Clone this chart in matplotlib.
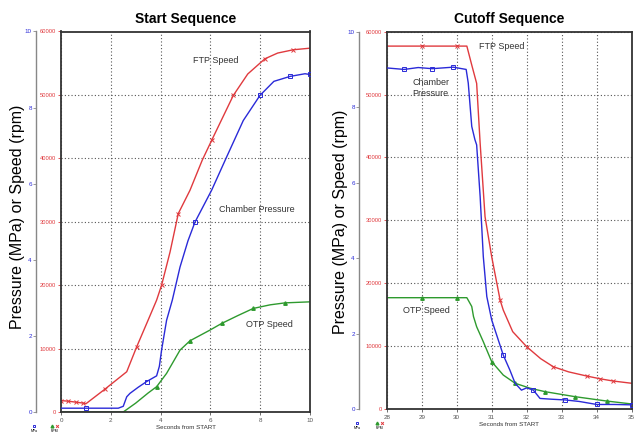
import matplotlib
matplotlib.use('Agg')
import matplotlib.pyplot as plt
from matplotlib.lines import Line2D

plt.rcParams['font.family'] = ['Liberation Sans', 'DejaVu Sans']

#%% data

# start sequence
t_ftp_start = [0, 0.3, 0.6, 0.9, 1.0, 1.1, 1.77, 2.64, 3.04, 3.5, 3.84, 4.04, 4.38, 4.71,
               5.18, 5.67, 6.05, 6.5, 6.92, 7.5, 8.19, 8.7, 9.33, 10]
ftp_start = [1800, 1700, 1550, 1400, 1300, 1600, 3620, 6350, 10280, 14500, 17640, 20000,
             25240, 31290, 34960, 39690, 42830, 46500, 49920, 53300, 55700, 56600, 57120, 57370]

t_pc_start = [0, 1, 2.3, 2.5, 2.64, 2.77, 3.1, 3.44, 3.84, 3.95, 4.04, 4.24, 4.47, 4.78,
              5.1, 5.38, 6.05, 6.65, 7.32, 7.99, 8.55, 9.2, 9.8, 10]
pc_start = [0.1, 0.1, 0.1, 0.15, 0.4, 0.49, 0.65, 0.8, 0.95, 1.2, 1.63, 2.41, 2.94, 3.81,
            4.5, 4.99, 5.83, 6.70, 7.66, 8.32, 8.69, 8.82, 8.89, 8.87]

t_otp_start = [0, 2.5, 3.0, 3.5, 3.84, 4.24, 4.78, 5.18, 5.98, 6.45, 7.1, 7.72, 8.4, 9.0, 10]
otp_start = [0, 0, 1400, 3000, 3990, 6090, 9760, 11230, 12910, 13960, 15200, 16330, 16900,
             17210, 17370]

# cutoff sequence
t_ftp_cut = [28, 29, 30, 30.29, 30.43, 30.57, 30.67, 30.81, 31.0, 31.24, 31.33, 31.6, 32.0,
             32.4, 32.76, 33.2, 33.71, 34.1, 34.47, 35]
ftp_cut = [57710, 57710, 57710, 57710, 54700, 51780, 42240, 30570, 24210, 17330, 15740,
           12300, 9900, 8000, 6720, 5900, 5250, 4800, 4450, 4090]

t_pc_cut = [28, 28.5, 28.9, 29.3, 29.9, 30.27, 30.33, 30.43, 30.52, 30.57, 30.67, 30.76,
            30.86, 31.0, 31.33, 31.52, 31.67, 31.75, 31.85, 32.0, 32.19, 32.38, 32.7, 33.1,
            33.5, 34.0, 34.5, 35]
pc_cut = [9.04, 9.0, 9.05, 9.02, 9.06, 9.0, 8.64, 7.49, 7.14, 7.0, 5.63, 4.04, 2.98, 2.36,
          1.43, 1.03, 0.68, 0.6, 0.5, 0.56, 0.50, 0.28, 0.26, 0.24, 0.2, 0.12, 0.12, 0.11]

t_otp_cut = [28, 29, 30, 30.29, 30.43, 30.48, 30.57, 30.76, 31.0, 31.33, 31.67, 32.1, 32.53,
             33.38, 34.28, 35]
otp_cut = [17700, 17700, 17700, 17700, 16300, 14700, 13080, 10700, 7520, 5400, 4090, 3300,
           2750, 1960, 1270, 800]

rpm_ticks = [0, 10000, 20000, 30000, 40000, 50000, 60000]
mpa_ticks = [0, 2, 4, 6, 8, 10]

RED = '#e03a3e'
BLUE = '#2a2ad8'
GREEN = '#2e9a2e'
TXT = '#333333'

fig = plt.figure(figsize=(6.37, 4.34), dpi=100)


def panel(rect, title, xticks, t_ftp, ftp, t_pc, pc, t_otp, otp, offset, marks):
    ax = fig.add_axes(rect)
    ax.set_xlim(xticks[0], xticks[-1])
    ax.set_ylim(0, 60000)
    ax.set_xticks(xticks)
    ax.set_yticks(rpm_ticks)
    ax.set_yticklabels([str(v) for v in rpm_ticks])
    ax.tick_params(axis='y', colors=RED, labelsize=4.2, length=2.5, width=0.6, pad=1)
    ax.tick_params(axis='x', colors='#555555', labelsize=4.5, length=2.5, width=0.6, pad=1.5)
    ax.grid(True, color='#555555', linestyle=(0, (1, 2)), linewidth=0.8)
    for s in ax.spines.values():
        s.set_color('#333333')
        s.set_linewidth(1.3)
    ax.set_xlabel('Seconds from START', fontsize=4.5, color=TXT, labelpad=2)
    ax.set_title(title, fontsize=10, fontweight='bold', pad=6)

    ax.plot(t_ftp, ftp, color=RED, lw=1.0, marker='x', ms=2.5, mew=0.7,
            markevery=marks[0])
    ax.plot(t_otp, otp, color=GREEN, lw=1.0, marker='^', ms=2.5, markevery=marks[2])

    axp = ax.twinx()
    axp.set_ylim(0, 10)
    axp.yaxis.tick_left()
    axp.set_yticks(mpa_ticks)
    for k in ['right', 'top', 'bottom']:
        axp.spines[k].set_visible(False)
    axp.spines['left'].set_visible(True)
    axp.spines['left'].set_position(('outward', offset))
    axp.spines['left'].set_color('#888888')
    axp.spines['left'].set_linewidth(1.0)
    axp.tick_params(axis='y', colors='#888888', labelcolor=BLUE, labelsize=4.5,
                    length=2, width=0.6, pad=1)
    axp.plot(t_pc, pc, color=BLUE, lw=1.0, marker='s', ms=2.2, mfc='none', mew=0.7,
             markevery=marks[1])
    return ax


ax1 = panel([61 / 637, 22 / 434, 249 / 637, 380.5 / 434], 'Start Sequence',
            [0, 2, 4, 6, 8, 10], t_ftp_start, ftp_start, t_pc_start, pc_start,
            t_otp_start, otp_start, 18,
            ([0, 1, 2, 3, 6, 8, 11, 13, 16, 18, 20, 22], [1, 7, 15, 19, 21, 23],
             [4, 7, 9, 11, 13]))
ax1.text(5.3, 55400, 'FTP Speed', fontsize=6.5, color=TXT, va='center')
ax1.text(6.33, 32000, 'Chamber Pressure', fontsize=6.5, color=TXT, va='center')
ax1.text(7.43, 13800, 'OTP Speed', fontsize=6.5, color=TXT, va='center')

ax2 = panel([386.7 / 637, 25 / 434, 245 / 637, 377.3 / 434], 'Cutoff Sequence',
            [28, 29, 30, 31, 32, 33, 34, 35], t_ftp_cut, ftp_cut, t_pc_cut, pc_cut,
            t_otp_cut, otp_cut, 20,
            ([1, 2, 9, 12, 14, 16, 17, 18], [1, 3, 4, 14, 20, 23, 25, 27],
             [1, 2, 8, 10, 12, 13, 14]))
ax2.text(30.64, 57660, 'FTP Speed', fontsize=6.5, color=TXT, va='center')
ax2.text(28.74, 51000, 'Chamber\nPressure', fontsize=6.5, color=TXT, va='center',
         linespacing=1.3)
ax2.text(28.46, 15700, 'OTP Speed', fontsize=6.5, color=TXT, va='center')

fig.text(18 / 637, 0.5, 'Pressure (MPa) or Speed (rpm)', rotation=90, fontsize=11.5,
         ha='center', va='center')
fig.text(341 / 637, 0.49, 'Pressure (MPa) or Speed (rpm)', rotation=90, fontsize=11.5,
         ha='center', va='center')

# tiny legend keys under each blue axis
for bx, gx, rx, yk in [(34, 52, 57, 426), (357, 377, 382, 423)]:
    fy = 1 - yk / 434
    fig.add_artist(Line2D([bx / 637], [fy], transform=fig.transFigure, marker='s',
                          ms=2, color=BLUE, mfc='none', mew=0.7))
    fig.add_artist(Line2D([gx / 637], [fy], transform=fig.transFigure, marker='^',
                          ms=2, color=GREEN))
    fig.add_artist(Line2D([rx / 637], [fy], transform=fig.transFigure, marker='x',
                          ms=2, color=RED, mew=0.7))
    fig.text(bx / 637, fy - 5 / 434, 'MPa', fontsize=2.5, ha='center', va='center')
    fig.text((gx + rx) / 2 / 637, fy - 5 / 434, 'RPM', fontsize=2.5, ha='center',
             va='center')

fig.savefig('out.png', dpi=100)
